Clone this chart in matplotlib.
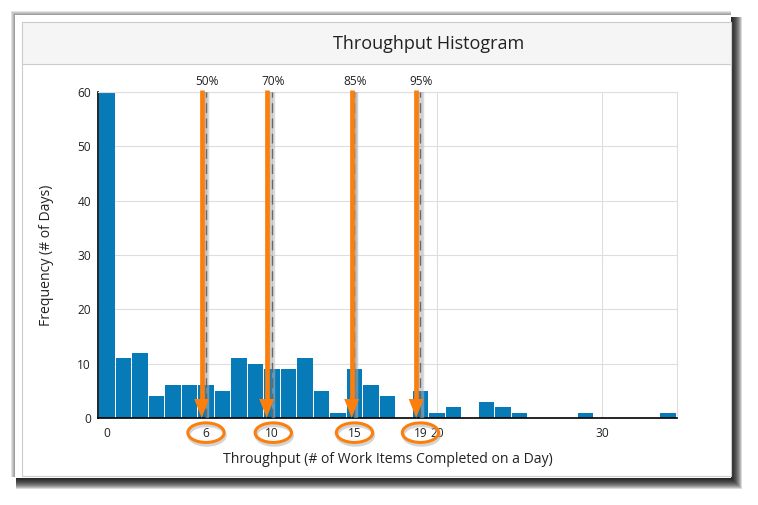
# plot.py - throughput histogram with percentile callouts
import matplotlib
matplotlib.use("Agg")
import matplotlib.pyplot as plt
from matplotlib.patches import Rectangle, Ellipse

plt.rcParams["font.family"] = ["Open Sans", "DejaVu Sans"]

W, H = 758, 505

items = list(range(35))
freq = [60, 11, 12, 4, 6, 6, 6, 5, 11, 10, 9, 9, 11, 5, 1, 9, 6, 4, 0, 5,
        1, 2, 0, 3, 2, 1, 0, 0, 0, 1, 0, 0, 0, 0, 1]
pct_labels = ["50%", "70%", "85%", "95%"]
pct_values = [6, 10, 15, 19]
arrow_x = [5.74, 9.68, 14.83, 18.74]
ellipse_x = [6.0, 10.08, 15.0, 19.0]
xticks = [0, 10, 20, 30]
yticks = [0, 10, 20, 30, 40, 50, 60]

BAR = "#077ab8"
ORANGE = "#fb7f0e"
TEXT = "#222222"

fig = plt.figure(figsize=(W / 100, H / 100), dpi=100, facecolor="white")

# card, shadow and title band in pixel coordinates
bg = fig.add_axes([0, 0, 1, 1], zorder=0)
bg.set_xlim(0, W)
bg.set_ylim(H, 0)
bg.axis("off")

# soft light edge on the top and left
for k in [3, 2, 1, 0]:
    bg.add_patch(Rectangle((14 - k, 14 - k), 717 + k, 463 + k, fc="black", ec="none", alpha=0.11))
# dark shadow on the right and bottom, fading outwards
for k in range(11, -1, -1):
    bg.add_patch(Rectangle((16, 17), 715 + k, 461 + k, fc="black", ec="none", alpha=0.15))
bg.add_patch(Rectangle((15, 15), 716, 463, fc="white", ec="none"))
bg.add_patch(Rectangle((21.5, 21.5), 709.5, 454.5, fc="white", ec="#cccccc", lw=0.8))
bg.add_patch(Rectangle((21.5, 21.5), 709.5, 42, fc="#f5f5f5", ec="#cccccc", lw=0.8))
bg.text(429, 44, "Throughput Histogram", ha="center", va="center", fontsize=13, color=TEXT)

# chart
ax = fig.add_axes([98 / W, 1 - 418 / H, (677 - 98) / W, (418 - 92) / H], zorder=1)
ax.patch.set_alpha(0)
ax.bar(items, freq, width=0.92, color=BAR, zorder=2)
ax.set_xlim(-0.545, 34.55)
ax.set_ylim(0, 60)
ax.set_xticks(xticks)
ax.set_yticks(yticks)
ax.grid(True, color="#dedede", lw=0.8, zorder=0)
ax.set_axisbelow(True)
ax.tick_params(length=0, labelsize=8.6, labelcolor=TEXT)
ax.tick_params(axis="x", pad=6.5)
ax.tick_params(axis="y", pad=5)
for s in ("top", "right"):
    ax.spines[s].set_color("#dedede")
    ax.spines[s].set_linewidth(0.8)
for s in ("left", "bottom"):
    ax.spines[s].set_color("black")
    ax.spines[s].set_linewidth(1.2)
ax.set_xlabel("Throughput (# of Work Items Completed on a Day)", fontsize=10.1, color=TEXT, labelpad=8.5)
ax.set_ylabel("Frequency (# of Days)", fontsize=10.1, color=TEXT, labelpad=17)

y_ell = -2.7
for lab, v, ax_x, ex in zip(pct_labels, pct_values, arrow_x, ellipse_x):
    # dashed percentile line with its grey halo
    ax.plot([v + 0.08, v + 0.08], [0, 60], color="#bbbbbb", lw=2.5, alpha=0.5, zorder=3)
    ax.plot([v, v], [0, 60], color="#666666", lw=1, dashes=(7, 4), zorder=3.5)
    ax.annotate(lab, (v, 60), xytext=(1, 10), textcoords="offset pixels", ha="center",
                va="center", fontsize=8.6, color=TEXT, annotation_clip=False)
    # arrow shadow then arrow
    for off, a in [(0.28, 0.10), (0.2, 0.16), (0.12, 0.2)]:
        ax.plot([ax_x + off, ax_x + off], [3, 60], color="#777777", lw=3, alpha=a, zorder=4)
    ax.plot([ax_x, ax_x], [3, 60.3], color=ORANGE, lw=3.4, zorder=5, solid_capstyle="butt", clip_on=False)
    ax.fill([ax_x - 0.45, ax_x + 0.45, ax_x], [3.5, 3.5, 0], color=ORANGE, lw=0, zorder=5)
    # circled value below the axis (10 is already a tick label)
    if v not in xticks:
        ax.text(v, -2.8, str(v), ha="center", va="center", fontsize=8.6, color=TEXT, clip_on=False, zorder=6)
    ax.add_patch(Ellipse((ex + 0.06, y_ell - 0.5), 2.2, 3.6, fc="none", ec="#aaaaaa", lw=2.2,
                         alpha=0.5, clip_on=False, zorder=6))
    ax.add_patch(Ellipse((ex, y_ell), 2.2, 3.6, fc="none", ec=ORANGE, lw=2.2, clip_on=False, zorder=7))

fig.savefig("out.png", dpi=100)
